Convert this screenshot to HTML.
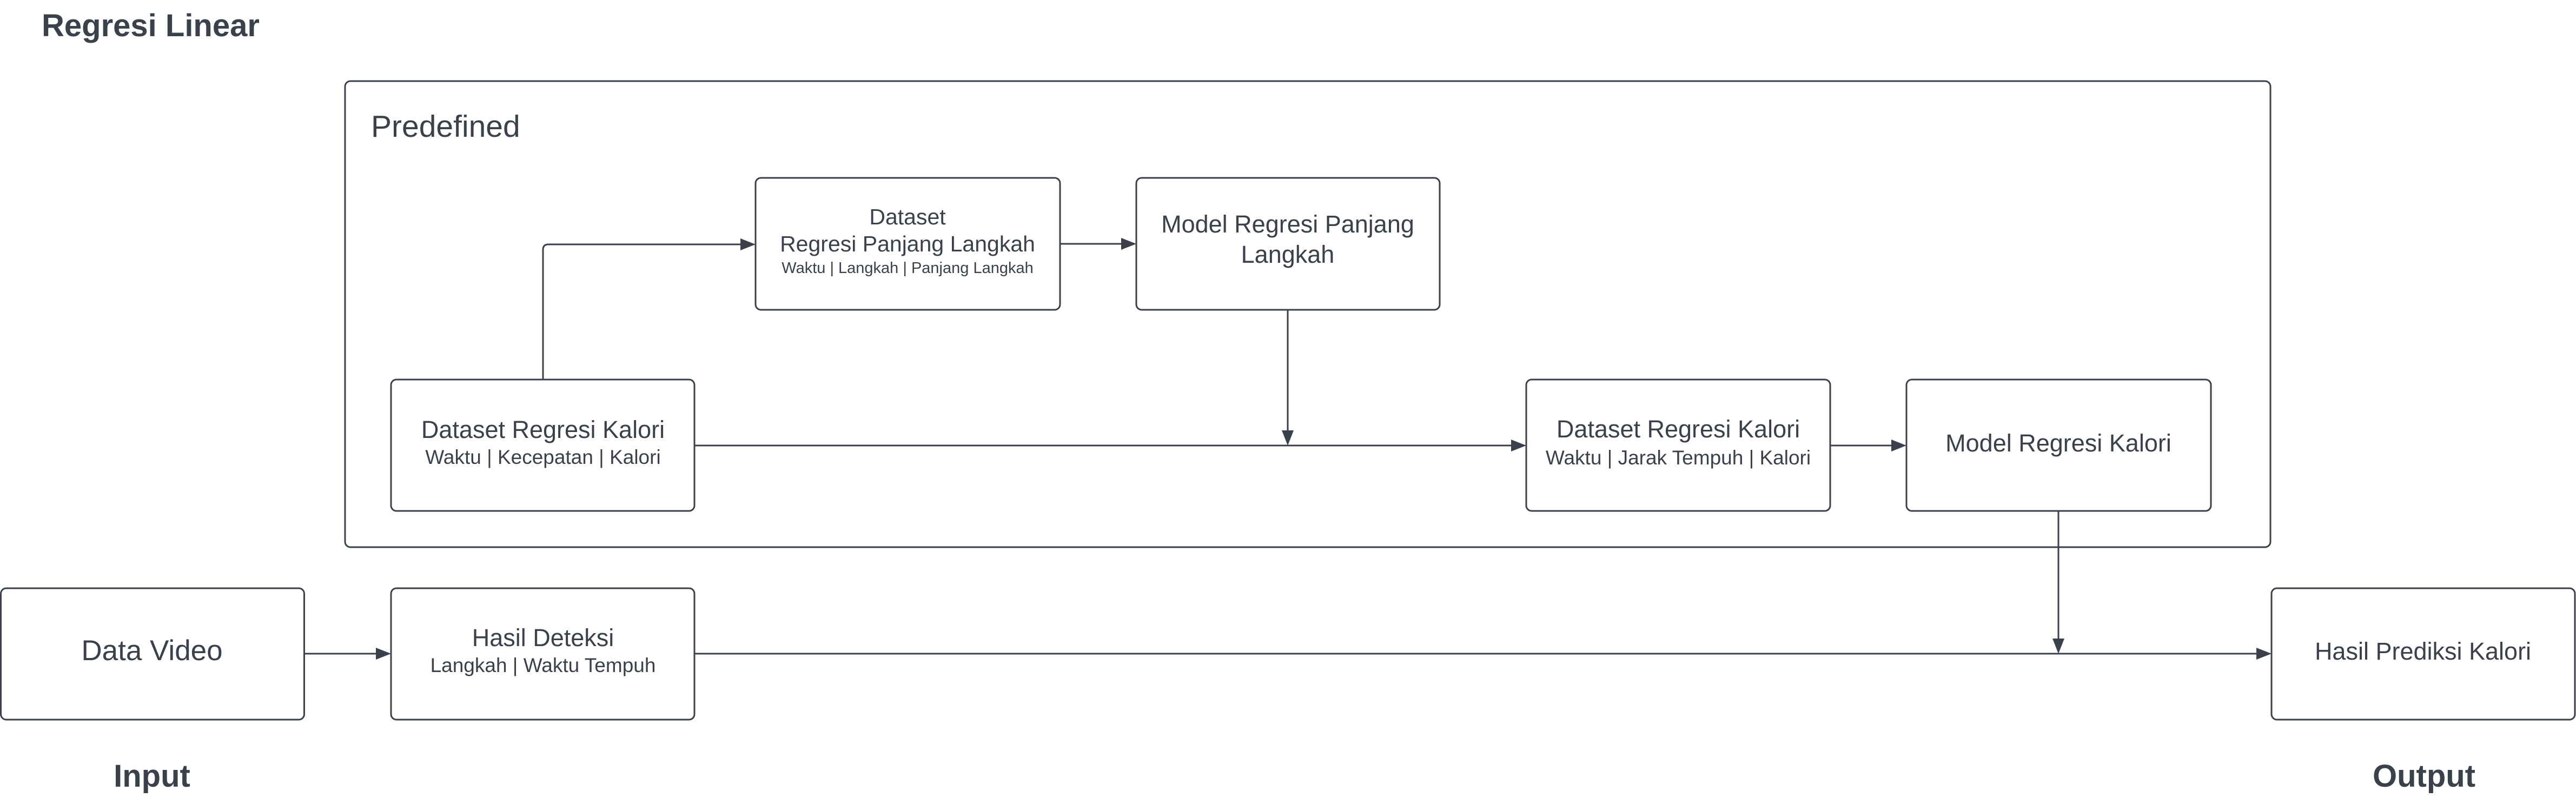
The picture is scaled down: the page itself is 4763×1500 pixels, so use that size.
<!DOCTYPE html>
<html><head><meta charset="utf-8"><style>
html,body{margin:0;padding:0;background:#fff;}
svg{display:block;}
text{font-family:"Liberation Sans",sans-serif;fill:#3a414a;}
</style></head><body>
<svg width="4763" height="1500" viewBox="0 0 4763 1500" xmlns="http://www.w3.org/2000/svg">
<defs>
<marker id="a" markerWidth="10" markerHeight="8" refX="10" refY="4" orient="auto" markerUnits="userSpaceOnUse" viewBox="0 0 10 8">
<path d="M0,0 L10,4 L0,8 Z" fill="#3a414a"/>
</marker>
</defs>
<g fill="none" stroke="#3a414a" stroke-width="3">
<rect x="638" y="150" width="3560" height="862" rx="10"/>
<rect x="723" y="702" width="561" height="243" rx="10"/>
<rect x="1397" y="329" width="563" height="244" rx="10"/>
<rect x="2101" y="329" width="561" height="244" rx="10"/>
<rect x="2822" y="702" width="562" height="243" rx="10"/>
<rect x="3525" y="702" width="563" height="243" rx="10"/>
<rect x="1.5" y="1088" width="561" height="243" rx="10"/>
<rect x="723" y="1088" width="561" height="243" rx="10"/>
<rect x="4200" y="1088" width="561" height="243" rx="10"/>
</g>
<g fill="#3a414a" stroke="none">
<path d="M1004,702 L1004,462 Q1004,452 1014,452 L1369,452" fill="none" stroke="#3a414a" stroke-width="3"/>
<polygon points="1397,452 1369,441 1369,463"/>
<line x1="1960" y1="451" x2="2073" y2="451" stroke="#3a414a" stroke-width="3"/>
<polygon points="2101,451 2073,440 2073,462"/>
<line x1="2381" y1="573" x2="2381" y2="796" stroke="#3a414a" stroke-width="3"/>
<polygon points="2381,824 2370,796 2392,796"/>
<line x1="1284" y1="824" x2="2794" y2="824" stroke="#3a414a" stroke-width="3"/>
<polygon points="2822,824 2794,813 2794,835"/>
<line x1="3384" y1="824" x2="3497" y2="824" stroke="#3a414a" stroke-width="3"/>
<polygon points="3525,824 3497,813 3497,835"/>
<line x1="3806" y1="945" x2="3806" y2="1181" stroke="#3a414a" stroke-width="3"/>
<polygon points="3806,1209 3795,1181 3817,1181"/>
<line x1="563" y1="1209" x2="695" y2="1209" stroke="#3a414a" stroke-width="3"/>
<polygon points="723,1209 695,1198 695,1220"/>
<line x1="1284" y1="1209" x2="4172" y2="1209" stroke="#3a414a" stroke-width="3"/>
<polygon points="4200,1209 4172,1198 4172,1220"/>
</g>
<text x="77" y="67" font-size="58" font-weight="bold">Regresi Linear</text>
<text x="686" y="253" font-size="57">Predefined</text>
<g text-anchor="middle">
<text x="1004" y="810" font-size="45">Dataset Regresi Kalori</text>
<text x="1004" y="858" font-size="37">Waktu | Kecepatan | Kalori</text>
<text x="1678" y="415" font-size="41">Dataset</text>
<text x="1678" y="465" font-size="41">Regresi Panjang Langkah</text>
<text x="1678" y="505" font-size="29">Waktu | Langkah | Panjang Langkah</text>
<text x="2381" y="430" font-size="45">Model Regresi Panjang</text>
<text x="2381" y="486" font-size="45">Langkah</text>
<text x="3103" y="809" font-size="45">Dataset Regresi Kalori</text>
<text x="3103" y="859" font-size="37">Waktu | Jarak Tempuh | Kalori</text>
<text x="3806" y="835" font-size="45">Model Regresi Kalori</text>
<text x="281" y="1221" font-size="53">Data Video</text>
<text x="1004" y="1195" font-size="45">Hasil Deteksi</text>
<text x="1004" y="1243" font-size="37">Langkah | Waktu Tempuh</text>
<text x="4480" y="1220" font-size="45">Hasil Prediksi Kalori</text>
<text x="281" y="1455" font-size="58" font-weight="bold">Input</text>
<text x="4482" y="1455" font-size="58" font-weight="bold">Output</text>
</g>
</svg>
</body></html>
